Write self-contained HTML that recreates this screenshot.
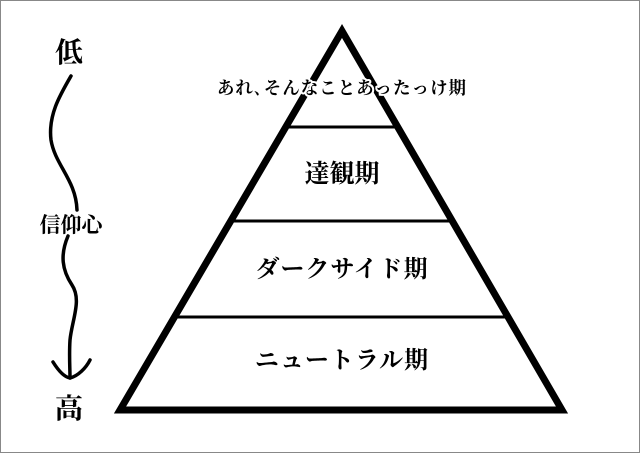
<!DOCTYPE html>
<html><head><meta charset="utf-8"><style>
html,body{margin:0;padding:0;background:#fff}
</style></head><body>
<svg width="640" height="453" viewBox="0 0 640 453" xmlns="http://www.w3.org/2000/svg">
<rect x="0.5" y="0.5" width="639" height="452" fill="#fff" stroke="#888" stroke-width="1"/>
<g stroke="#000" stroke-width="3" fill="none">
<line x1="286" y1="127" x2="398" y2="127"/>
<line x1="231" y1="221" x2="454" y2="221"/>
<line x1="175" y1="317" x2="510" y2="317"/>
</g>
<polygon points="342,31 120,410 562,410" fill="none" stroke="#000" stroke-width="7" stroke-linejoin="miter"/>
<g font-family="'Liberation Serif','Noto Serif CJK JP','Noto Serif CJK SC',serif" font-weight="bold" text-anchor="middle" fill="#000">
<text x="342" y="94" font-size="17.5" letter-spacing="1" stroke="#fff" stroke-width="4" paint-order="stroke">あれ､そんなことあったっけ期</text>
<text x="342" y="182" font-size="25">達観期</text>
<text x="342" y="277" font-size="24" letter-spacing="1">ダークサイド期</text>
<text x="342" y="368" font-size="24" letter-spacing="1">ニュートラル期</text>
<text x="69" y="62" font-size="28">低</text>
<text x="69" y="418" font-size="28">高</text>
<text x="71" y="232" font-size="21">信仰心</text>
</g>
<g stroke="#000" stroke-width="3.5" fill="none" stroke-linecap="round">
<path d="M71,76 C60,95 48,115 51,140 C55,165 76,180 77,210"/>
<path d="M68,236 C60,255 62,270 72,285 C82,300 72,320 70,340 C69,355 70,368 70,378"/>
<path d="M53,362 C58,370 64,377 70,378 C78,376 86,368 90,360"/>
</g>
</svg>
</body></html>
